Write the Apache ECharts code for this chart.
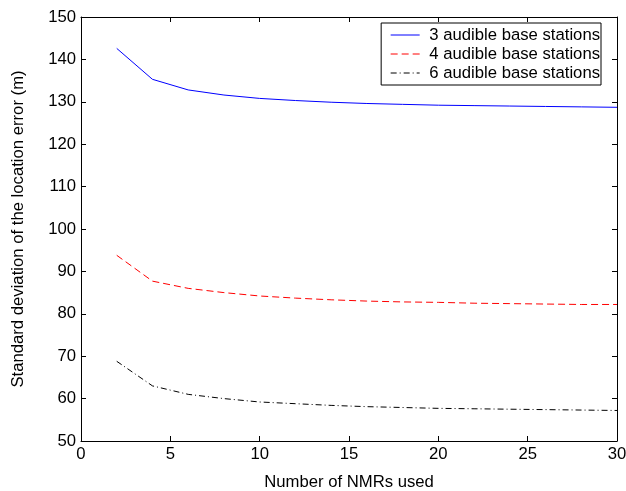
<!DOCTYPE html>
<html>
<head>
<meta charset="utf-8">
<script src="https://cdn.jsdelivr.net/npm/echarts@6/dist/echarts.min.js"></script>
<style>
html,body{margin:0;padding:0;background:#fff;}
#chart{width:626px;height:491px;}
</style>
</head>
<body>
<div id="chart"></div>
<script>
// Number of NMRs used (x) and location-error standard deviation per station count
const nmrCounts = [2, 4, 6, 8, 10, 12, 14, 16, 18, 20, 22, 24, 26, 28, 30];
const std3 = [142.6, 135.3, 132.8, 131.6, 130.8, 130.3, 129.9, 129.6, 129.4, 129.2, 129.1, 129.0, 128.9, 128.8, 128.7];
const std4 = [93.8, 87.7, 86.0, 85.0, 84.2, 83.7, 83.3, 83.0, 82.8, 82.7, 82.5, 82.4, 82.3, 82.2, 82.2];
const std6 = [68.8, 63.0, 61.0, 60.0, 59.2, 58.8, 58.4, 58.1, 57.9, 57.7, 57.6, 57.5, 57.4, 57.3, 57.2];
const seriesNames = ['3 audible base stations', '4 audible base stations', '6 audible base stations'];

const font = 'Liberation Sans, Arial, Helvetica, sans-serif';
const fontSize = 16.7;
const pair = arr => nmrCounts.map((x, i) => [x, arr[i]]);

// one line style per series, shared by the plot and the legend
const lineStyles = [
  { color: '#0000ff', width: 1, type: 'solid' },
  { color: '#ff0000', width: 1, type: [7, 4] },
  { color: '#000000', width: 1, type: [6, 3, 1, 3] }
];

const tickStyle = { show: true, inside: true, length: 5, lineStyle: { color: '#000', width: 1 } };
const axisLine = { show: true, onZero: false, lineStyle: { color: '#000', width: 1 } };
const labelStyle = { fontFamily: font, fontSize: fontSize, color: '#000' };

const chart = echarts.init(document.getElementById('chart'), null, { renderer: 'canvas' });
chart.setOption({
  animation: false,
  backgroundColor: '#fff',
  grid: { left: 81, right: 9, top: 17, bottom: 50, containLabel: false, outerBoundsMode: 'none' },
  legend: {
    orient: 'vertical',
    right: 25,
    top: 23,
    backgroundColor: '#fff',
    borderColor: '#000',
    borderWidth: 1,
    borderRadius: 0,
    padding: [3, 1, 3, 9],
    itemGap: 1,
    itemWidth: 29,
    itemHeight: 17,
    itemStyle: { opacity: 0 },
    formatter: name => ' ' + name,
    textStyle: Object.assign({ lineHeight: 18 }, labelStyle),
    data: seriesNames.map((name, i) => ({ name: name, lineStyle: lineStyles[i] }))
  },
  xAxis: [
    {
      type: 'value', min: 0, max: 30, interval: 5, position: 'bottom',
      name: 'Number of NMRs used', nameLocation: 'middle', nameGap: 33,
      nameTextStyle: labelStyle,
      axisLine: axisLine, axisTick: tickStyle,
      axisLabel: Object.assign({ margin: 5 }, labelStyle),
      splitLine: { show: false }
    },
    {
      type: 'value', min: 0, max: 30, interval: 5, position: 'top',
      axisLine: axisLine, axisTick: tickStyle,
      axisLabel: { show: false }, splitLine: { show: false }
    }
  ],
  yAxis: [
    {
      type: 'value', min: 50, max: 150, interval: 10, position: 'left',
      name: 'Standard deviation of the location error (m)', nameLocation: 'middle', nameGap: 54,
      nameTextStyle: labelStyle,
      axisLine: axisLine, axisTick: tickStyle,
      axisLabel: Object.assign({ margin: 5 }, labelStyle),
      splitLine: { show: false }
    },
    {
      type: 'value', min: 50, max: 150, interval: 10, position: 'right',
      axisLine: axisLine, axisTick: tickStyle,
      axisLabel: { show: false }, splitLine: { show: false }
    }
  ],
  series: [std3, std4, std6].map((values, i) => ({
    name: seriesNames[i], type: 'line', data: pair(values), symbol: 'none',
    lineStyle: lineStyles[i], itemStyle: { color: lineStyles[i].color }
  }))
});
</script>
</body>
</html>
